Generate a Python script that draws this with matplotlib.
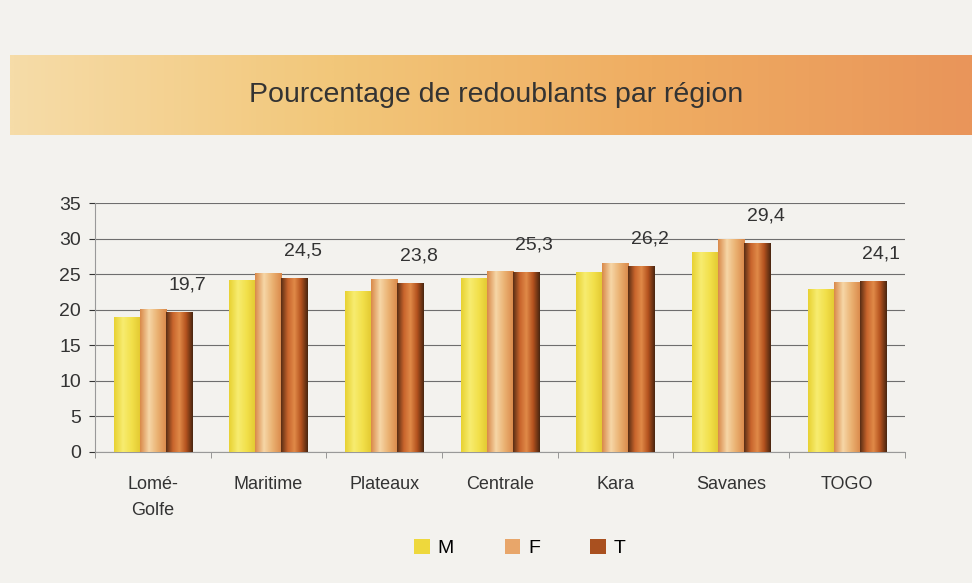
import numpy as np
import matplotlib
matplotlib.use("Agg")
import matplotlib.pyplot as plt
from matplotlib.colors import LinearSegmentedColormap
from matplotlib.patches import Patch

plt.rcParams["font.family"] = ["Liberation Sans", "DejaVu Sans"]

regions = ["Lomé-\nGolfe", "Maritime", "Plateaux", "Centrale", "Kara", "Savanes", "TOGO"]
m_vals = [19.0, 24.2, 22.7, 24.4, 25.3, 28.1, 22.9]
f_vals = [20.1, 25.2, 24.3, 25.5, 26.6, 30.0, 23.9]
t_vals = [19.7, 24.5, 23.8, 25.3, 26.2, 29.4, 24.1]
t_labels = ["19,7", "24,5", "23,8", "25,3", "26,2", "29,4", "24,1"]
series = ["M", "F", "T"]

bg = "#f3f2ee"
cmaps = {
    "M": LinearSegmentedColormap.from_list("m", ["#e8d232", "#f7ec70", "#f2e04a", "#e2c830"]),
    "F": LinearSegmentedColormap.from_list("f", ["#d98a4a", "#f6d6a6", "#eab070", "#d9884a"]),
    "T": LinearSegmentedColormap.from_list("t", ["#5a2e14", "#c8642c", "#e08a48", "#b4521e", "#4a2610"]),
}
legend_col = {"M": "#eed83c", "F": "#e8a66a", "T": "#a9501f"}

fig = plt.figure(figsize=(9.72, 5.83), dpi=100, facecolor=bg)

# bandeau du titre, dégradé horizontal
bax = fig.add_axes([0.01, 0.768, 0.99, 0.137])
grad = np.linspace(0, 1, 400).reshape(1, -1)
banner = LinearSegmentedColormap.from_list("b", ["#f6dca8", "#f2c77a", "#efad62", "#e9955a"])
bax.imshow(grad, aspect="auto", cmap=banner, extent=[0, 1, 0, 1])
bax.set_axis_off()
bax.text(0.505, 0.5, "Pourcentage de redoublants par région", ha="center", va="center",
         fontsize=20.5, color="#333333")

ax = fig.add_axes([0.0977, 0.2247, 0.833, 0.4271], facecolor=bg)
x = np.arange(len(regions))
w = 0.225
gx = np.linspace(0, 1, 64).reshape(1, -1)
for i, (name, vals) in enumerate(zip(series, [m_vals, f_vals, t_vals])):
    pos = x + (i - 1) * w
    bars = ax.bar(pos, vals, width=w, color="none", edgecolor="none", zorder=3)
    for b in bars:
        x0, y1 = b.get_x(), b.get_height()
        im = ax.imshow(gx, aspect="auto", cmap=cmaps[name], zorder=3,
                       extent=[x0, x0 + w, 0, y1])
        im.set_clip_path(b)

for xi, lab, v in zip(x, t_labels, t_vals):
    ax.annotate(lab, (xi + w, v), xytext=(6, 13), textcoords="offset points",
                ha="center", va="bottom", fontsize=14, color="#333333")

ax.set_xlim(-0.5, len(regions) - 0.5)
ax.set_ylim(0, 35)
ax.set_yticks(range(0, 36, 5))
ax.tick_params(axis="y", labelsize=14, colors="#333333", length=4, pad=6)
ax.set_xticks(x)
ax.set_xticklabels(regions, fontsize=13, color="#333333", linespacing=1.7)
ax.tick_params(axis="x", length=0, pad=17)
ax.set_xticks(np.arange(-0.5, len(regions), 1), minor=True)
ax.tick_params(axis="x", which="minor", length=4, color="#888888")
ax.grid(axis="y", color="#6e6e6e", lw=0.8, zorder=1)
for s in ["top", "right"]:
    ax.spines[s].set_visible(False)
for s in ["left", "bottom"]:
    ax.spines[s].set_color("#999999")

handles = [Patch(facecolor=legend_col[s], label=s) for s in series]
fig.legend(handles=handles, loc="center", bbox_to_anchor=(0.535, 0.06), ncol=3,
           frameon=False, fontsize=14, handlelength=0.8, handleheight=0.8,
           columnspacing=2.6, handletextpad=0.4)

fig.savefig("out.png", dpi=100, facecolor=bg)
